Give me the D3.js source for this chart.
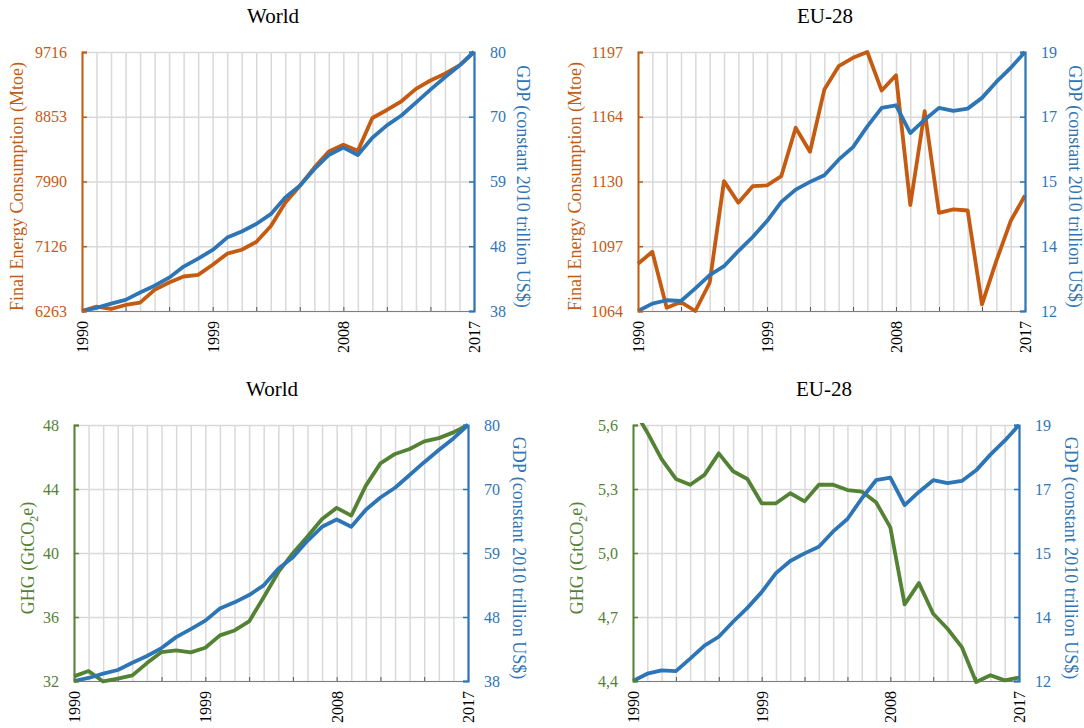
<!DOCTYPE html>
<html>
<head>
<meta charset="utf-8">
<script src="https://cdn.jsdelivr.net/npm/d3@7"></script>
<style>
  body { margin: 0; background: #fff; }
  svg { font-family: "Liberation Serif", "Times New Roman", serif; }
</style>
</head>
<body>
<div id="chart"></div>
<script>
// years on the x axis
var years = d3.range(1990, 2018);
var yearLabels = ["1990", "1999", "2008", "2017"];

// series values
var worldEnergy = [6263, 6321, 6290, 6343, 6375, 6545, 6643, 6723, 6745, 6880, 7027, 7080, 7183, 7393,
                   7706, 7929, 8175, 8389, 8479, 8398, 8836, 8943, 9059, 9225, 9336, 9426, 9537, 9716];
var worldGdp = [38, 38.5, 39.2, 39.8, 41.0, 42.1, 43.4, 45.2, 46.5, 47.9, 49.9, 50.9, 52.1, 53.7,
                56.4, 58.3, 61.0, 63.3, 64.5, 63.3, 66.1, 68.1, 69.7, 71.8, 73.9, 75.9, 77.8, 80];
var euEnergy = [1088.3, 1094.4, 1065.7, 1068.6, 1064, 1078.5, 1130.7, 1119.6, 1128.1, 1128.5, 1133.3, 1158.1, 1145.8, 1177.7,
                1189.7, 1194, 1197, 1177.2, 1185.1, 1118.4, 1166.6, 1114.4, 1116.2, 1115.6, 1067.4, 1089.7, 1110.2, 1123.3];
var euGdp = [12, 12.2, 12.29, 12.27, 12.61, 12.97, 13.21, 13.62, 14.0, 14.43, 14.95, 15.28, 15.49, 15.67,
             16.09, 16.43, 16.99, 17.49, 17.56, 16.81, 17.17, 17.49, 17.41, 17.47, 17.76, 18.19, 18.57, 19];
var worldGhg = [32.29, 32.62, 31.97, 32.15, 32.35, 33.12, 33.81, 33.91, 33.79, 34.08, 34.85, 35.16, 35.72, 37.24,
                38.8, 39.99, 41.03, 42.13, 42.82, 42.34, 44.21, 45.6, 46.19, 46.5, 46.98, 47.18, 47.54, 48];
var euGhg = [5.68, 5.565, 5.44, 5.347, 5.32, 5.366, 5.467, 5.383, 5.347, 5.233, 5.233, 5.28, 5.242, 5.32,
             5.32, 5.295, 5.288, 5.238, 5.12, 4.759, 4.859, 4.715, 4.645, 4.559, 4.395, 4.427, 4.403, 4.416];

// tick labels of each y axis
var worldEnergyTicks = ["6263", "7126", "7990", "8853", "9716"];
var worldGdpTicks = ["38", "48", "59", "70", "80"];
var euEnergyTicks = ["1064", "1097", "1130", "1164", "1197"];
var euGdpTicks = ["12", "14", "15", "17", "19"];
var worldGhgTicks = ["32", "36", "40", "44", "48"];
var euGhgTicks = ["4,4", "4,7", "5,0", "5,3", "5,6"];

var ORANGE = "#C55A11", BLUE = "#2E75B6", GREEN = "#548235", GRID = "#d9d9d9";

var svg = d3.select("#chart").append("svg")
    .attr("width", 1084)
    .attr("height", 728);

var panels = [
  { x0: 82, x1: 474, y0: 52, y1: 311, title: "World", titleX: 273, left: worldEnergy, leftTicks: worldEnergyTicks,
    leftColor: ORANGE, leftTitle: "Final Energy Consumption (Mtoe)", right: worldGdp, rightTicks: worldGdpTicks, lOff: 65, rOff: 49 },
  { x0: 638, x1: 1025, y0: 52, y1: 311, title: "EU-28", titleX: 825, left: euEnergy, leftTicks: euEnergyTicks,
    leftColor: ORANGE, leftTitle: "Final Energy Consumption (Mtoe)", right: euGdp, rightTicks: euGdpTicks, lOff: 63, rOff: 50 },
  { x0: 74, x1: 468, y0: 425, y1: 681, title: "World", titleX: 272, left: worldGhg, leftTicks: worldGhgTicks,
    leftColor: GREEN, leftTitle: "GHG", right: worldGdp, rightTicks: worldGdpTicks, lOff: 46, rOff: 51 },
  { x0: 633, x1: 1019, y0: 425, y1: 681, title: "EU-28", titleX: 824, left: euGhg, leftTicks: euGhgTicks,
    leftColor: GREEN, leftTitle: "GHG", right: euGdp, rightTicks: euGdpTicks, lOff: 56, rOff: 52 }
];

function num(s) { return +s.replace(",", "."); }

// drop the sans-serif defaults d3 puts on axis groups
function plainFont(sel) {
  sel.attr("font-family", null).attr("font-size", null);
}

panels.forEach(function(p, pi) {
  var w = p.x1 - p.x0, h = p.y1 - p.y0;
  var g = svg.append("g").attr("transform", "translate(" + p.x0 + "," + p.y0 + ")");

  var x = d3.scaleLinear().domain([1990, 2017]).range([0, w]);
  var yL = d3.scaleLinear().domain([num(p.leftTicks[0]), num(p.leftTicks[4])]).range([h, 0]);
  var yR = d3.scaleLinear().domain([num(p.rightTicks[0]), num(p.rightTicks[4])]).range([h, 0]);

  // five evenly spaced ticks, labelled with the rounded values of the picture
  var lVals = d3.range(5).map(function(i) { return yL.domain()[0] + i * (yL.domain()[1] - yL.domain()[0]) / 4; });
  var rVals = d3.range(5).map(function(i) { return yR.domain()[0] + i * (yR.domain()[1] - yR.domain()[0]) / 4; });

  // gridlines
  g.append("g").attr("class", "grid")
      .call(d3.axisBottom(x).tickValues(years).tickSize(h).tickFormat(""))
      .call(function(s) { s.select(".domain").remove(); s.selectAll("line").attr("stroke", GRID).attr("stroke-width", 1.5); });
  g.append("g").attr("class", "grid")
      .call(d3.axisLeft(yL).tickValues(lVals).tickSize(-w).tickFormat(""))
      .call(function(s) { s.select(".domain").remove(); s.selectAll("line").attr("stroke", GRID).attr("stroke-width", 1.5); });

  // bottom axis
  var xAxis = g.append("g")
      .attr("transform", "translate(0," + h + ")")
      .call(d3.axisBottom(x)
        .tickValues(years.filter(function(d) { return (d - 1990) % 3 === 0; }))
        .tickSize(-4)
        .tickFormat(function(d) { return yearLabels.indexOf(String(d)) >= 0 ? String(d) : ""; }))
      .call(plainFont);
  xAxis.select(".domain").attr("stroke", "#7f7f7f").attr("stroke-width", 1.2);
  xAxis.selectAll("line").attr("stroke", "#595959");
  xAxis.selectAll("text")
      .attr("transform", "rotate(-90)")
      .attr("text-anchor", "end")
      .attr("x", -10).attr("y", 0).attr("dy", "0.35em")
      .attr("fill", "#000").style("font-size", "16px");

  // lines, clipped to the plot area
  var clipId = "clip" + pi;
  g.append("clipPath").attr("id", clipId).append("rect")
      .attr("x", -4).attr("y", -2).attr("width", w + 8).attr("height", h + 6);

  var lineL = d3.line().x(function(d, i) { return x(years[i]); }).y(function(d) { return yL(d); });
  var lineR = d3.line().x(function(d, i) { return x(years[i]); }).y(function(d) { return yR(d); });

  g.append("path").datum(p.left)
      .attr("clip-path", "url(#" + clipId + ")")
      .attr("fill", "none").attr("stroke", p.leftColor).attr("stroke-width", 3.8)
      .attr("stroke-linejoin", "round").attr("d", lineL);
  g.append("path").datum(p.right)
      .attr("clip-path", "url(#" + clipId + ")")
      .attr("fill", "none").attr("stroke", BLUE).attr("stroke-width", 3.8)
      .attr("stroke-linejoin", "round").attr("d", lineR);

  // left axis
  var lAxis = g.append("g")
      .call(d3.axisLeft(yL).tickValues(lVals).tickSize(-5).tickPadding(15)
        .tickFormat(function(d, i) { return p.leftTicks[i]; }))
      .call(plainFont);
  lAxis.select(".domain").attr("stroke", p.leftColor).attr("stroke-width", 2);
  lAxis.selectAll("line").attr("stroke", p.leftColor).attr("stroke-width", 1.5);
  lAxis.selectAll("text").attr("fill", p.leftColor).style("font-size", "16px");

  // right axis
  var rAxis = g.append("g")
      .attr("transform", "translate(" + w + ",0)")
      .call(d3.axisRight(yR).tickValues(rVals).tickSize(-5).tickPadding(16)
        .tickFormat(function(d, i) { return p.rightTicks[i]; }))
      .call(plainFont);
  rAxis.select(".domain").attr("stroke", BLUE).attr("stroke-width", 2.2);
  rAxis.selectAll("line").attr("stroke", BLUE).attr("stroke-width", 1.5);
  rAxis.selectAll("text").attr("fill", BLUE).style("font-size", "16px");

  // titles
  svg.append("text")
      .attr("x", p.titleX).attr("y", p.y0 - 29)
      .attr("text-anchor", "middle")
      .style("font-size", "21px")
      .text(p.title);

  var lt = g.append("text")
      .attr("transform", "translate(" + (-p.lOff) + "," + (h / 2 + 5) + ") rotate(-90)")
      .attr("text-anchor", "middle").attr("dy", "0.35em")
      .attr("fill", p.leftColor).style("font-size", "18px");
  if (p.leftTitle === "GHG") {
    lt.append("tspan").text("GHG (GtCO");
    lt.append("tspan").attr("dy", "0.3em").style("font-size", "12px").text("2");
    lt.append("tspan").attr("dy", "-0.3em").text("e)");
  } else {
    lt.text(p.leftTitle);
  }

  g.append("text")
      .attr("transform", "translate(" + (w + p.rOff) + "," + (h / 2 + 5) + ") rotate(90)")
      .attr("text-anchor", "middle").attr("dy", "0.35em")
      .attr("fill", BLUE).style("font-size", "18px")
      .text("GDP (constant 2010 trillion US$)");
});
</script>
</body>
</html>
